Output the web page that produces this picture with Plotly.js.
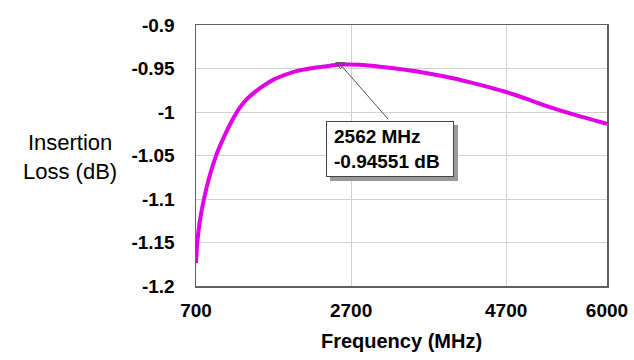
<!DOCTYPE html>
<html>
<head>
<meta charset="utf-8">
<script src="https://cdn.plot.ly/plotly-3.0.1.min.js"></script>
<style>html,body{margin:0;padding:0;background:#fff;}#chart{width:634px;height:360px;}</style>
</head>
<body>
<div id="chart"></div>
<script>
// Data
const freqMHz = [700, 717, 752, 803, 872, 958, 1035, 1113, 1190, 1267, 1358, 1461, 1577, 1706, 1848, 2002, 2170, 2363, 2562, 2800, 3100, 3400, 3700, 4000, 4350, 4700, 5000, 5250, 5600, 6000];
const lossDb = [-1.1736, -1.1494, -1.1241, -1.0999, -1.0747, -1.0505, -1.0338, -1.0189, -1.0057, -0.9947, -0.9850, -0.9769, -0.9694, -0.9625, -0.9574, -0.9528, -0.9499, -0.9476, -0.94551, -0.9458, -0.9482, -0.9515, -0.9557, -0.961, -0.9685, -0.977, -0.986, -0.994, -1.0035, -1.0135];
const peakFreq = 2562;
const peakLoss = -0.94551;
const xTickVals = [700, 2700, 4700, 6000];
const xTickText = ["700", "2700", "4700", "6000"];
const yTickVals = [-0.9, -0.95, -1, -1.05, -1.1, -1.15, -1.2];
const yTickText = ["-0.9", "-0.95", "-1", "-1.05", "-1.1", "-1.15", "-1.2"];

const FONT = "Liberation Sans, Arial, sans-serif";
const boldTick = {family: FONT, size: 19, color: "#000", weight: 700};

const traces = [
  {
    x: freqMHz, y: lossDb, type: "scatter", mode: "lines",
    line: {color: "rgb(225,0,230)", width: 4, shape: "spline", smoothing: 0.8},
    hoverinfo: "skip"
  },
  {
    x: [peakFreq], y: [peakLoss], type: "scatter", mode: "markers",
    marker: {symbol: "triangle-down-open", size: 8, color: "#555", line: {width: 1, color: "#555"}},
    hoverinfo: "skip"
  }
];

const labelText = peakFreq + " MHz<br>" + peakLoss + " dB";

const layout = {
  width: 634, height: 360,
  margin: {l: 196, r: 27, t: 25, b: 74},
  paper_bgcolor: "#fff", plot_bgcolor: "#fff",
  showlegend: false,
  xaxis: {
    range: [700, 6000], tickvals: xTickVals, ticktext: xTickText,
    tickfont: boldTick, showgrid: true, gridcolor: "#d0d0d0", gridwidth: 1,
    zeroline: false, showline: true, linecolor: "#606060", linewidth: 1.5, mirror: true,
    ticks: "", ticklabelstandoff: 7, fixedrange: true,
    title: {text: "Frequency (MHz)", font: {family: FONT, size: 20, color: "#000", weight: 700}, standoff: 13},
    automargin: false
  },
  yaxis: {
    range: [-1.2, -0.9], tickvals: yTickVals, ticktext: yTickText,
    tickfont: boldTick, showgrid: true, gridcolor: "#d0d0d0", gridwidth: 1,
    zeroline: false, showline: true, linecolor: "#606060", linewidth: 1.5, mirror: true,
    ticks: "", ticklabelstandoff: 16, fixedrange: true, automargin: false
  },
  annotations: [
    {
      text: "Insertion<br>Loss (dB)", xref: "paper", yref: "paper",
      x: -0.3066, y: 0.494, xanchor: "center", yanchor: "middle", showarrow: false,
      font: {family: FONT, size: 22, color: "#000"}
    },
    {
      x: peakFreq, y: peakLoss, xref: "x", yref: "y", text: "",
      showarrow: true, arrowhead: 0, arrowwidth: 1, arrowcolor: "#555",
      ax: 49, ay: 56, standoff: 0
    },
    {
      x: peakFreq, y: peakLoss, xref: "x", yref: "y", text: " ", showarrow: false,
      xanchor: "left", yanchor: "top", xshift: -10, yshift: -60,
      width: 112, height: 40, borderpad: 7, borderwidth: 1,
      bgcolor: "#9a9a9a", bordercolor: "#9a9a9a"
    },
    {
      x: peakFreq, y: peakLoss, xref: "x", yref: "y", text: labelText, showarrow: false,
      xanchor: "left", yanchor: "top", xshift: -14, yshift: -56, align: "left",
      width: 112, height: 40, borderpad: 7, borderwidth: 1,
      bgcolor: "#fff", bordercolor: "#444",
      font: {family: FONT, size: 19, color: "#000", weight: 700}
    }
  ]
};

Plotly.newPlot("chart", traces, layout, {displayModeBar: false, staticPlot: true});
</script>
</body>
</html>
